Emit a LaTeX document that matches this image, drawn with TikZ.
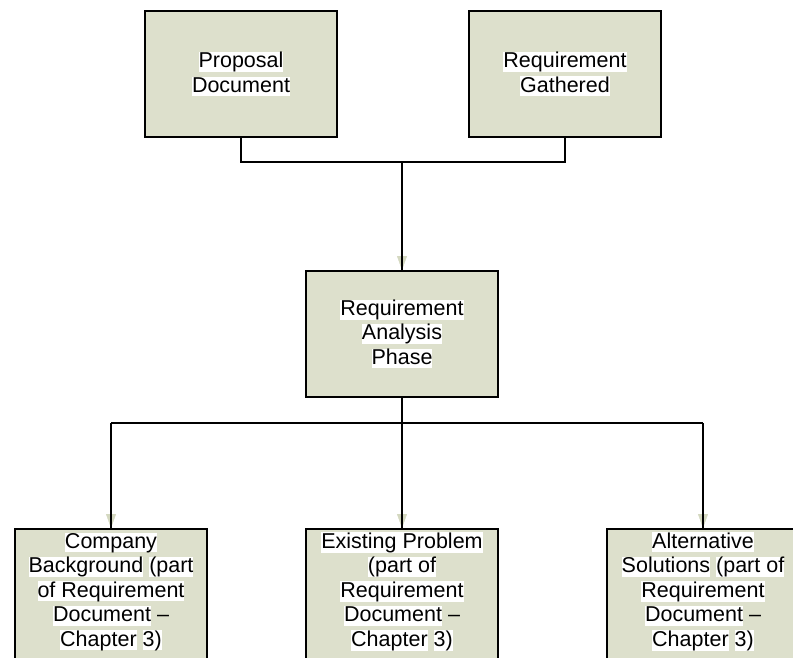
\documentclass[tikz,border=0pt]{standalone}
\usepackage{fontspec}
\setmainfont{Liberation Sans}
\usetikzlibrary{arrows.meta}
\definecolor{boxfill}{RGB}{221,224,204}
\definecolor{tipfill}{RGB}{212,216,192}
% white highlight behind a word
\newcommand\hw[1]{{\setlength\fboxsep{0pt}\colorbox{white}{\vrule height 15.5pt depth 4pt width 0pt #1}}}
\begin{document}
\begin{tikzpicture}[x=1pt,y=-1pt,
  boxtext/.style={inner sep=0pt, align=center, font=\fontsize{21.5}{24.5}\selectfont},
  stepbox/.style={boxtext, draw=black, line width=2pt, fill=boxfill,
    minimum width=192pt, minimum height=126pt},
  conn/.style={line width=2pt, line join=miter},
  tipback/.style={tipfill, line width=0.4pt, -{Triangle[length=14pt,width=10pt]}}]
\useasboundingbox (0,0) rectangle (793,657);
\clip (0,0) rectangle (793,657);

% boxes
\node[stepbox] (prop) at (241,74) {\hw{Proposal}\\\hw{Document}};
\node[stepbox] (gath) at (565,74) {\hw{Requirement}\\\hw{Gathered}};
\node[stepbox] (anal) at (402,334) {\hw{Requirement}\\\hw{Analysis}\\\hw{Phase}};

% lower boxes run past the bottom edge
\node[stepbox, minimum height=134pt] (comp) at (111,596) {};
\node[stepbox, minimum height=134pt] (exist) at (402,596) {};
\node[stepbox, minimum height=134pt] (alt) at (703,596) {};
\node[boxtext] (comptxt) at (111,591.5) {\hw{Company}\\\hw{Background} \hw{(part}\\\hw{of Requirement}\\\hw{Document} –\\\hw{Chapter} \hw{3)}};
\node[boxtext] (existtxt) at (402,591.5) {\hw{Existing Problem}\\\hw{(part of}\\\hw{Requirement}\\\hw{Document} –\\\hw{Chapter} \hw{3)}};
\node[boxtext] (alttxt) at (703,591.5) {\hw{Alternative}\\\hw{Solutions} \hw{(part of}\\\hw{Requirement}\\\hw{Document} –\\\hw{Chapter} \hw{3)}};

% junctions
\coordinate (jtop) at (402,162);
\coordinate (jbot) at (402,423);

% inputs merge into the analysis phase
\draw[conn] (prop.south) -- (prop.south |- jtop) -- (gath.south |- jtop) -- (gath.south);
\draw[tipback] (jtop) -- (anal.north);
\draw[conn] (jtop) -- (anal.north);

% analysis phase splits into the three outputs
\draw[conn] (anal.south) -- (jbot);
\draw[conn] (comp.north |- jbot) -- (alt.north |- jbot);
\foreach \n in {comp,exist,alt}{
  \draw[tipback] (\n.north |- jbot) -- (\n.north);
  \draw[conn] (\n.north |- jbot) -- (\n.north);
}
\end{tikzpicture}
\end{document}
